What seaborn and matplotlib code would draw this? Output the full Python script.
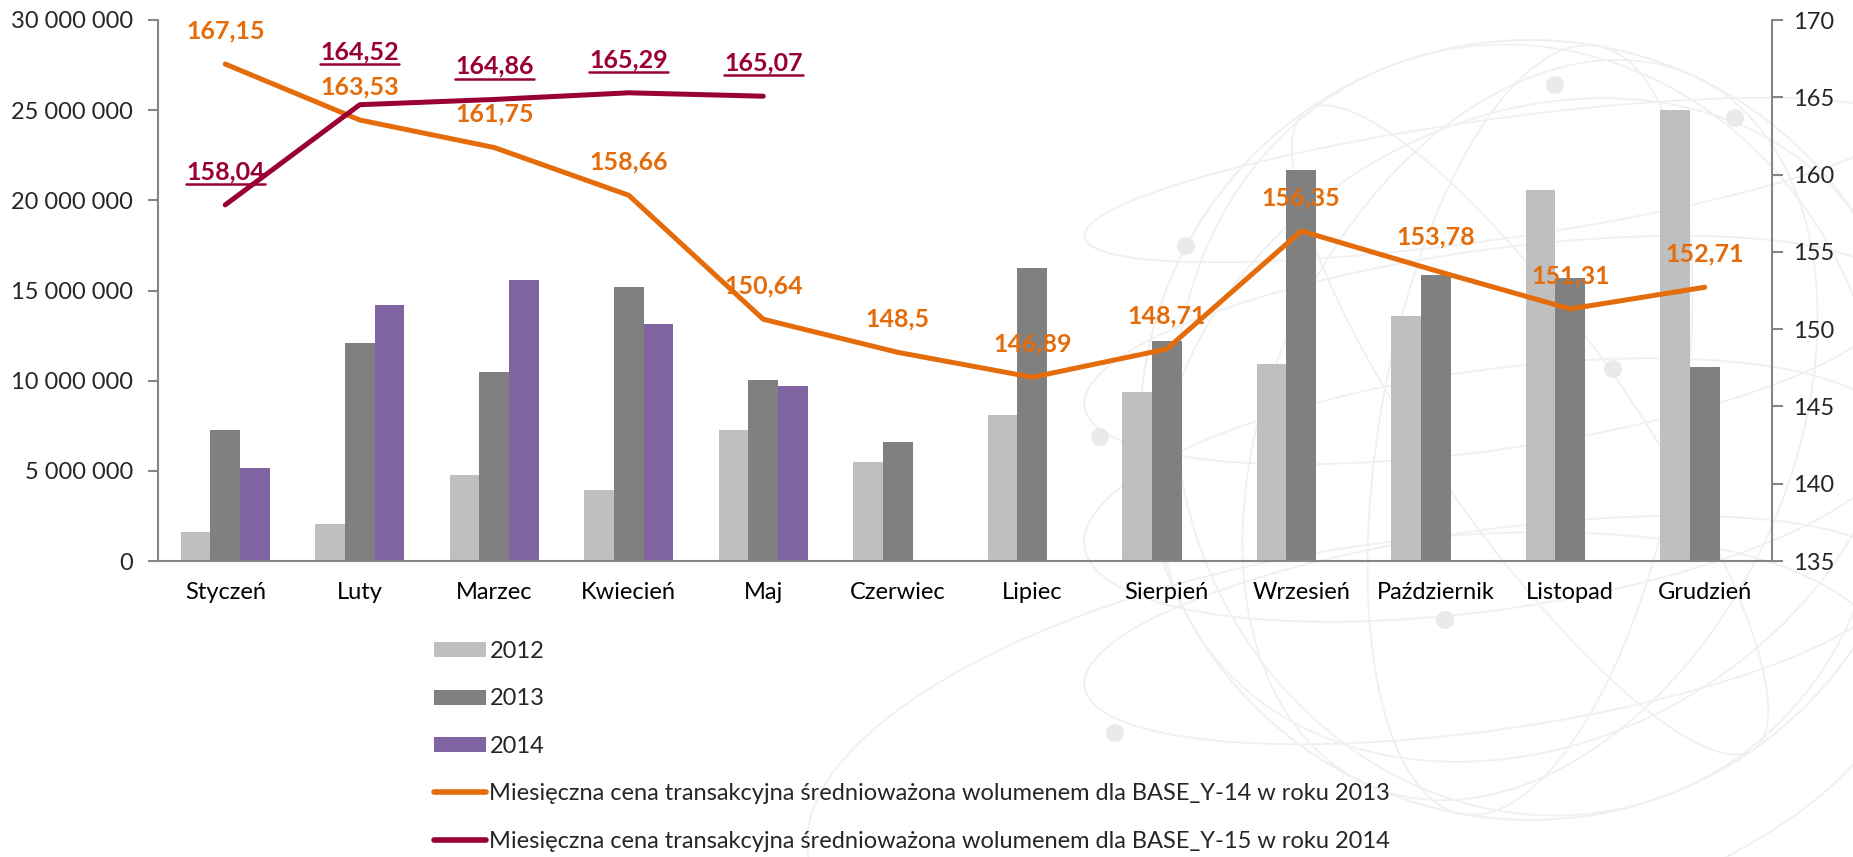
import numpy as np
import pandas as pd
import matplotlib
matplotlib.use("Agg")
import matplotlib.pyplot as plt
import seaborn as sns
from matplotlib.lines import Line2D
from matplotlib.patches import Patch, Ellipse, Circle
import matplotlib.ticker as mticker

# ---------------- data ----------------
months = ["Styczeń", "Luty", "Marzec", "Kwiecień", "Maj", "Czerwiec", "Lipiec",
          "Sierpień", "Wrzesień", "Październik", "Listopad", "Grudzień"]
years = ["2012", "2013", "2014"]
vol_2012 = [1.59e6, 2.06e6, 4.76e6, 3.95e6, 7.28e6, 5.48e6, 8.07e6, 9.36e6,
            10.91e6, 13.60e6, 20.55e6, 25.00e6]
vol_2013 = [7.26e6, 12.10e6, 10.47e6, 15.18e6, 10.04e6, 6.62e6, 16.26e6, 12.21e6,
            21.70e6, 15.88e6, 15.67e6, 10.74e6]
vol_2014 = [5.18e6, 14.20e6, 15.56e6, 13.16e6, 9.70e6]
price_2013 = [167.15, 163.53, 161.75, 158.66, 150.64, 148.5, 146.89, 148.71,
              156.35, 153.78, 151.31, 152.71]
price_2014 = [158.04, 164.52, 164.86, 165.29, 165.07]
price_2013_labels = ["167,15", "163,53", "161,75", "158,66", "150,64", "148,5",
                     "146,89", "148,71", "156,35", "153,78", "151,31", "152,71"]
price_2014_labels = ["158,04", "164,52", "164,86", "165,29", "165,07"]
line_labels = [
    "Miesięczna cena transakcyjna średnioważona wolumenem dla BASE_Y-14 w roku 2013",
    "Miesięczna cena transakcyjna średnioważona wolumenem dla BASE_Y-15 w roku 2014",
]

# ---------------- style ----------------
sns.set_style("white")
plt.rcParams["font.family"] = ["Lato", "DejaVu Sans"]
FS = 17
C2012, C2013, C2014 = "#BFBFBF", "#808080", "#8064A2"
ORANGE, MAROON = "#E46C0A", "#990033"
AXC = "#868686"

rows = []
for vals, yr in [(vol_2012, "2012"), (vol_2013, "2013"), (vol_2014, "2014")]:
    for m, v in zip(months, vals):
        rows.append({"month": m, "year": yr, "vol": v})
df = pd.DataFrame(rows)

fig = plt.figure(figsize=(18.53, 8.57), dpi=100)

# faint globe watermark (decoration)
bg = fig.add_axes([0, 0, 1, 1], zorder=-5)
bg.set_xlim(0, 1853)
bg.set_ylim(857, 0)
bg.axis("off")
gc = "#f0f0f0"
cx, cy, r = 1530, 430, 390
bg.add_patch(Circle((cx, cy), r, fill=False, ec=gc, lw=1.5))
for w, ang in [(300, 10), (520, 25), (700, -20), (200, -35), (620, 60)]:
    bg.add_patch(Ellipse((cx, cy), w, 2 * r, angle=ang, fill=False, ec=gc, lw=1.3))
for h, dy in [(120, -250), (200, -80), (240, 60), (200, 200)]:
    bg.add_patch(Ellipse((cx - 40, cy + dy), 2 * r * 1.05, h, angle=-8, fill=False, ec=gc, lw=1.3))
bg.add_patch(Ellipse((1350, 760), 1100, 420, angle=-10, fill=False, ec=gc, lw=1.3))
for px, py in [(1555, 85), (1735, 118), (1186, 246), (1100, 437), (1445, 620), (1613, 369), (1115, 733)]:
    bg.add_patch(Circle((px, py), 9, fc="#eaeaea", ec="none"))

ax = fig.add_axes([158 / 1853, 1 - 561 / 857, (1772 - 158) / 1853, (561 - 20) / 857])
ax.patch.set_visible(False)
sns.barplot(data=df, x="month", y="vol", hue="year", order=months, hue_order=years,
            palette=[C2012, C2013, C2014], width=0.665, gap=0, saturation=1,
            edgecolor="none", linewidth=0, legend=False, ax=ax, zorder=2)
ax.set_xlim(-0.5, 11.5)
ax.set_ylim(0, 30e6)
ax.set_yticks(np.arange(0, 30e6 + 1, 5e6))
ax.yaxis.set_major_formatter(mticker.FuncFormatter(lambda v, p: f"{int(v):,}".replace(",", " ")))
ax.set_xlabel("")
ax.set_ylabel("")
ax.set_xticks(np.arange(-0.5, 12, 1), minor=True)
ax.tick_params(axis="x", which="major", length=0, pad=15, labelsize=FS, colors="black")
ax.tick_params(axis="x", which="minor", length=8, width=1.5, color=AXC, direction="out")
ax.tick_params(axis="y", length=7, width=1.5, color=AXC, pad=11, labelsize=FS, left=True)
for s in ["top", "right"]:
    ax.spines[s].set_visible(False)
for s in ["left", "bottom"]:
    ax.spines[s].set_color(AXC)
    ax.spines[s].set_linewidth(1.5)

ax2 = ax.twinx()
ax2.patch.set_visible(False)
x13 = np.arange(len(price_2013))
x14 = np.arange(len(price_2014))
sns.lineplot(x=x13, y=price_2013, ax=ax2, color=ORANGE, lw=3.6, zorder=3, legend=False)
sns.lineplot(x=x14, y=price_2014, ax=ax2, color=MAROON, lw=3.6, zorder=3, legend=False)
ax2.set_ylim(135, 170)
ax2.set_xlim(-0.5, 11.5)
ax2.set_yticks(np.arange(135, 171, 5))
ax2.tick_params(axis="y", length=8, width=1.5, color=AXC, pad=7, labelsize=FS, right=True)
for s in ["top", "left", "bottom"]:
    ax2.spines[s].set_visible(False)
ax2.spines["right"].set_color(AXC)
ax2.spines["right"].set_linewidth(1.5)

OFF = 24
for xi, yi, t in zip(x13, price_2013, price_2013_labels):
    ax2.annotate(t, (xi, yi), xytext=(0, OFF), textcoords="offset points",
                 ha="center", va="center", color=ORANGE, fontsize=18,
                 fontweight="bold", zorder=5)
maroon_texts = []
extra = [0, 14, 0, 0, 0]
for xi, yi, t, e in zip(x14, price_2014, price_2014_labels, extra):
    tt = ax2.annotate(t, (xi, yi), xytext=(0, OFF + e), textcoords="offset points",
                      ha="center", va="center", color=MAROON, fontsize=18,
                      fontweight="bold", zorder=5)
    maroon_texts.append(tt)

handles = [Patch(fc=C2012, ec="none"), Patch(fc=C2013, ec="none"), Patch(fc=C2014, ec="none"),
           Line2D([], [], color=ORANGE, lw=4), Line2D([], [], color=MAROON, lw=4)]
labels = years + line_labels
fig.legend(handles, labels, loc="upper left", bbox_to_anchor=(434 / 1853, 1 - 641 / 857),
           frameon=False, fontsize=FS, handlelength=2.2, handleheight=0.6,
           handletextpad=0.15, labelspacing=1.12, borderpad=0, borderaxespad=0)

# underline maroon labels
fig.canvas.draw()
rend = fig.canvas.get_renderer()
inv = fig.transFigure.inverted()
for tt in maroon_texts:
    bb = tt.get_window_extent(rend)
    (x0, y0), (x1, _) = inv.transform([[bb.x0, bb.y0 - 1], [bb.x1, bb.y0 - 1]])
    fig.add_artist(Line2D([x0, x1], [y0, y0], color=MAROON, lw=1.8, zorder=6))

fig.savefig("out.png", dpi=100)
